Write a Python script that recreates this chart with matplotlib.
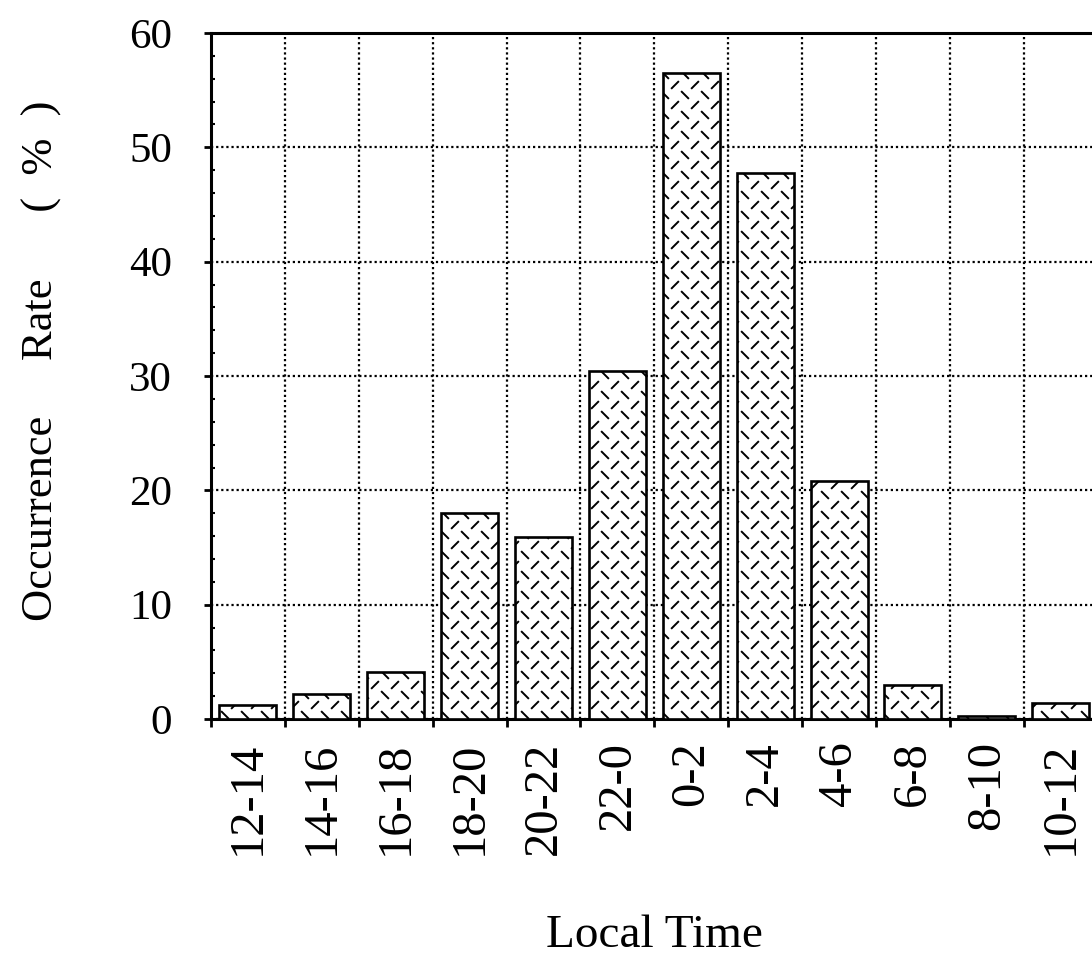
# -*- coding: utf-8 -*-

import numpy as np
import matplotlib
matplotlib.use("Agg")
import matplotlib.pyplot as plt
import matplotlib.hatch as mhatch
from matplotlib.path import Path

# data
time_bins = ["12-14", "14-16", "16-18", "18-20", "20-22", "22-0",
             "0-2", "2-4", "4-6", "6-8", "8-10", "10-12"]
rates = [1.2, 2.2, 4.1, 18.0, 15.9, 30.4, 56.5, 47.8, 20.8, 3.0, 0.3, 1.4]
y_ticks = [0, 10, 20, 30, 40, 50, 60]


class DashWeave(mhatch.HatchPatternBase):
    """Short dashes, rows alternating '\\' and '/' (replaces the '*' hatch)."""

    def __init__(self, hatch, density):
        self.segs = []
        if '*' in hatch:
            nrow, ncol, d = 10, 5, 0.032
            for r in range(nrow):
                y = (r + 0.5) / nrow
                for c in range(ncol):
                    if r % 2 == 0:
                        x = (c + 0.25) / ncol
                        self.segs.append(((x - d, y + d), (x + d, y - d)))
                    else:
                        x = (c + 0.75) / ncol
                        self.segs.append(((x - d, y - d), (x + d, y + d)))
        self.num_vertices = 2 * len(self.segs)

    def set_vertices_and_codes(self, vertices, codes):
        for i, (a, b) in enumerate(self.segs):
            vertices[2 * i] = a
            vertices[2 * i + 1] = b
            codes[2 * i] = Path.MOVETO
            codes[2 * i + 1] = Path.LINETO


# swap the star hatch for the dash pattern
mhatch._hatch_types = [h for h in mhatch._hatch_types if h is not mhatch.Stars]
mhatch._hatch_types.append(DashWeave)

plt.rcParams['font.family'] = ['Liberation Serif', 'DejaVu Serif']
plt.rcParams['hatch.linewidth'] = 1.4

fig = plt.figure(figsize=(10.92, 9.6), dpi=100)
ax = fig.add_axes([0.1932, 0.251, 0.812, 0.7146])

x = np.arange(len(time_bins))
ax.bar(x, rates, width=0.77, color='white', edgecolor='black',
       linewidth=1.9, hatch='*', zorder=3)

ax.set_xlim(-0.5, len(time_bins) - 0.5)
ax.set_ylim(0, 60)

# x: labels at the bar centres, ticks and grid at the bin edges
ax.set_xticks(x)
ax.set_xticklabels(time_bins, rotation=90, fontsize=35)
ax.set_xticks(np.arange(-0.5, len(time_bins), 1), minor=True)
ax.tick_params(axis='x', which='major', length=0, pad=16)
ax.tick_params(axis='x', which='minor', direction='out', length=6, width=2)

ax.set_yticks(y_ticks)
ax.set_yticks(np.arange(0, 61, 2), minor=True)
ax.tick_params(axis='y', which='major', direction='out', length=5, width=2,
               pad=23, labelsize=31)
ax.tick_params(axis='y', which='minor', direction='in', length=3, width=1.5)

dots = (0, (1, 1.3))
ax.grid(True, axis='x', which='minor', color='black',
        linestyle=dots, linewidth=1.6, zorder=0)
ax.grid(True, axis='y', which='major', color='black',
        linestyle=dots, linewidth=1.6, zorder=0)
ax.set_axisbelow(True)

for side in ['left', 'top', 'bottom']:
    ax.spines[side].set_linewidth(2.2)
ax.spines['right'].set_visible(False)

ax.set_xlabel("Local Time", fontsize=34, labelpad=43)
ax.set_ylabel("Occurrence     Rate      (  %  )", fontsize=32)
ax.yaxis.set_label_coords(-0.168, 0.5226)

fig.savefig("out.png", dpi=100)
print("DONE")
